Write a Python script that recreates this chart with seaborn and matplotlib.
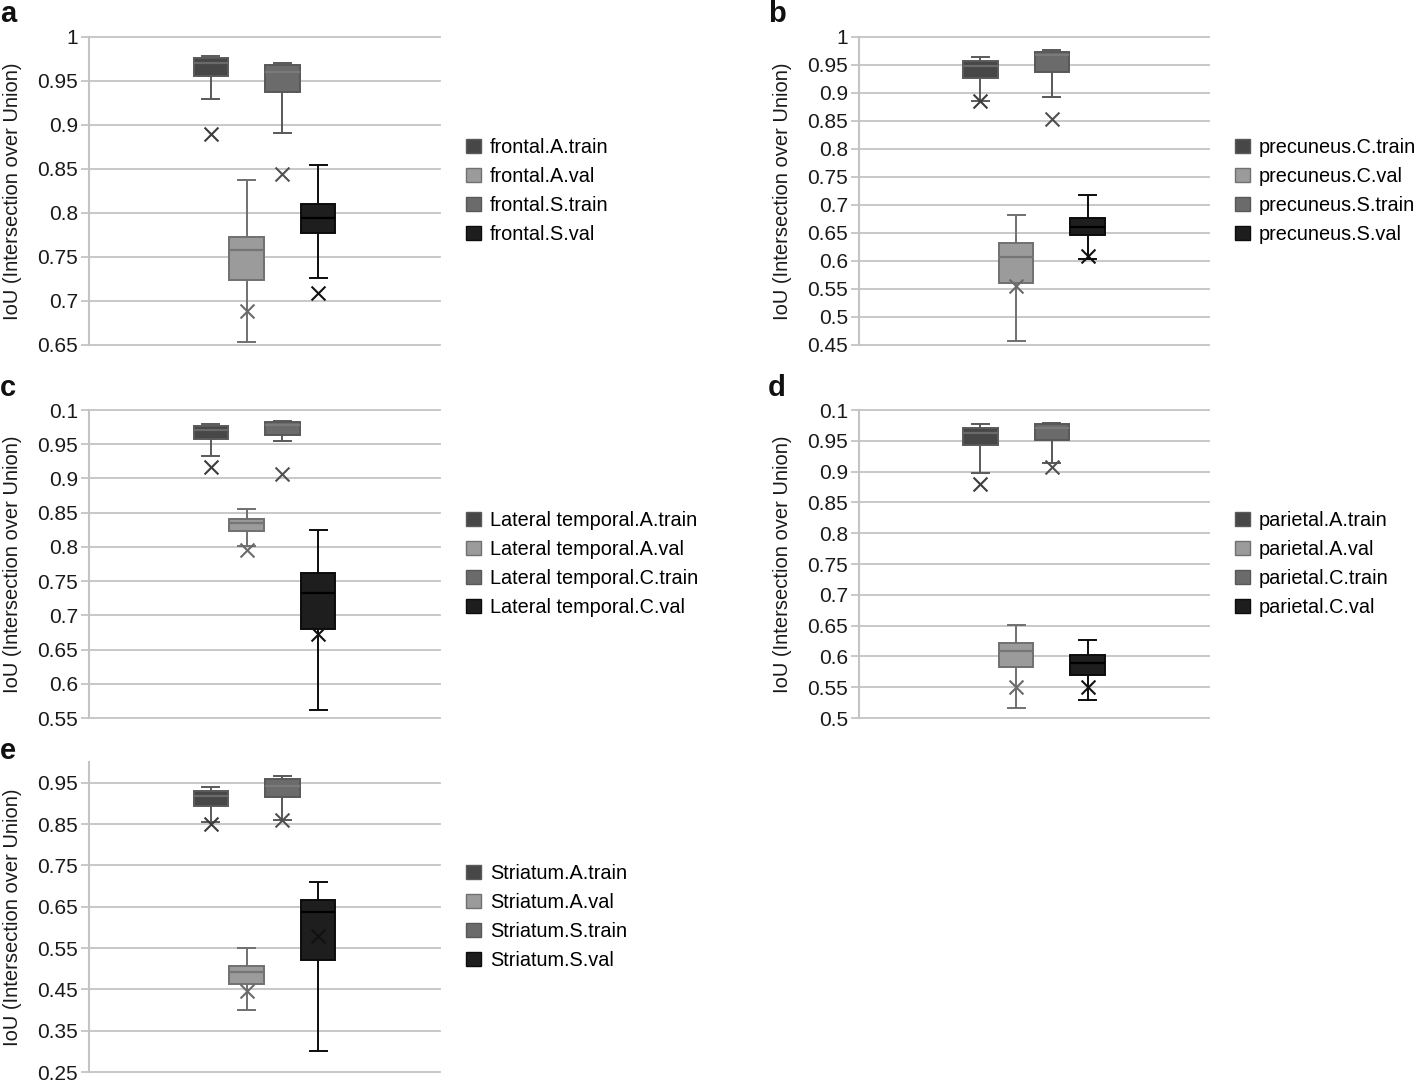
import numpy as np
import pandas as pd
import matplotlib
matplotlib.use("Agg")
import matplotlib.pyplot as plt
import seaborn as sns
from matplotlib.patches import Patch

# ---- data (box: min, q1, median, q3, max; x marker = mean) ----
frontal_labels = ["frontal.A.train", "frontal.A.val", "frontal.S.train", "frontal.S.val"]
frontal_min = [0.930, 0.653, 0.891, 0.726]
frontal_q1 = [0.956, 0.724, 0.937, 0.777]
frontal_med = [0.970, 0.758, 0.960, 0.794]
frontal_q3 = [0.976, 0.773, 0.968, 0.810]
frontal_max = [0.978, 0.837, 0.971, 0.854]
frontal_mean = [0.890, 0.689, 0.844, 0.709]

precuneus_labels = ["precuneus.C.train", "precuneus.C.val", "precuneus.S.train", "precuneus.S.val"]
precuneus_min = [0.886, 0.457, 0.893, 0.603]
precuneus_q1 = [0.927, 0.561, 0.938, 0.647]
precuneus_med = [0.949, 0.607, 0.967, 0.661]
precuneus_q3 = [0.957, 0.633, 0.973, 0.677]
precuneus_max = [0.965, 0.682, 0.976, 0.718]
precuneus_mean = [0.885, 0.555, 0.854, 0.609]

lateral_labels = ["Lateral temporal.A.train", "Lateral temporal.A.val",
                  "Lateral temporal.C.train", "Lateral temporal.C.val"]
lateral_min = [0.933, 0.801, 0.955, 0.561]
lateral_q1 = [0.958, 0.823, 0.964, 0.680]
lateral_med = [0.971, 0.835, 0.978, 0.733]
lateral_q3 = [0.977, 0.841, 0.982, 0.762]
lateral_max = [0.979, 0.856, 0.984, 0.824]
lateral_mean = [0.916, 0.795, 0.906, 0.672]

parietal_labels = ["parietal.A.train", "parietal.A.val", "parietal.C.train", "parietal.C.val"]
parietal_min = [0.898, 0.516, 0.914, 0.529]
parietal_q1 = [0.943, 0.582, 0.951, 0.570]
parietal_med = [0.963, 0.609, 0.970, 0.589]
parietal_q3 = [0.971, 0.621, 0.977, 0.603]
parietal_max = [0.978, 0.651, 0.979, 0.627]
parietal_mean = [0.880, 0.551, 0.908, 0.551]

striatum_labels = ["Striatum.A.train", "Striatum.A.val", "Striatum.S.train", "Striatum.S.val"]
striatum_min = [0.855, 0.401, 0.859, 0.302]
striatum_q1 = [0.894, 0.462, 0.915, 0.520]
striatum_med = [0.918, 0.491, 0.942, 0.636]
striatum_q3 = [0.930, 0.507, 0.959, 0.665]
striatum_max = [0.939, 0.550, 0.967, 0.710]
striatum_mean = [0.851, 0.445, 0.859, 0.580]

fills = ["#474747", "#9b9b9b", "#6b6b6b", "#1e1e1e"]
edges = ["#5a5a5a", "#707070", "#585858", "#0c0c0c"]
medians = ["#6a6a6a", "#757575", "#7a7a7a", "#000000"]
mean_cols = ["#3c3c3c", "#6a6a6a", "#505050", "#111111"]
grid_col = "#c4c4c4"

W, H = 1416, 1081
plt.rcParams["font.family"] = ["Liberation Sans", "DejaVu Sans"]
fig = plt.figure(figsize=(W / 100, H / 100), dpi=100)


def add_ax(x0, y0, x1, y1):
    return fig.add_axes([x0 / W, 1 - y1 / H, (x1 - x0) / W, (y1 - y0) / H])


def panel(ax, labels, mins, q1s, meds, q3s, maxs, means, ylim, ticks, ticklabels):
    rows = []
    for lab, a, b, c, d, e in zip(labels, mins, q1s, meds, q3s, maxs):
        for v in (a, b, c, d, e):
            rows.append({"grp": "all", "series": lab, "iou": v})
    df = pd.DataFrame(rows)
    mdf = pd.DataFrame({"grp": "all", "series": labels, "iou": means})

    # one call per series so every box can get its own outline colour
    for i, lab in enumerate(labels):
        sns.boxplot(data=df[df.series == lab], x="grp", y="iou", hue="series",
                    hue_order=labels, palette=fills, dodge=True, gap=0.04,
                    whis=(0, 100), showfliers=False, linecolor=edges[i],
                    linewidth=1.4, medianprops={"color": medians[i], "linewidth": 1.6},
                    legend=False, ax=ax)
    for i, lab in enumerate(labels):
        sns.stripplot(data=mdf[mdf.series == lab], x="grp", y="iou", hue="series",
                      hue_order=labels, palette=mean_cols, dodge=True, jitter=False,
                      marker="x", size=10, linewidth=1.5, legend=False, ax=ax, zorder=5)
        coll = ax.collections[-1]
        coll.set_edgecolor(mean_cols[i])
        coll.set_facecolor(mean_cols[i])

    ax.set_xlim(-0.98, 0.98)
    ax.set_ylim(*ylim)
    ax.set_yticks(ticks)
    ax.set_yticklabels(ticklabels)
    ax.set_xticks([])
    ax.set_xlabel("")
    ax.set_ylabel("IoU (Intersection over Union)", fontsize=14.5, color="#1a1a1a")
    ax.yaxis.set_label_coords(-0.192, 0.5)
    ax.tick_params(axis="y", length=6, width=1.3, color=grid_col, pad=2,
                   labelsize=15, labelcolor="#1a1a1a")
    ax.yaxis.grid(True, color=grid_col, linewidth=1.3)
    ax.set_axisbelow(True)
    for gl in ax.get_ygridlines():
        gl.set_clip_on(False)
    for s in ("top", "right", "bottom"):
        ax.spines[s].set_visible(False)
    ax.spines["left"].set_color(grid_col)
    ax.spines["left"].set_linewidth(1.5)

    handles = [Patch(facecolor=fills[i], edgecolor=edges[i], linewidth=1.0, label=labels[i])
               for i in range(4)]
    ax.legend(handles=handles, loc="center left", bbox_to_anchor=(1.075, 0.5),
              frameon=False, fontsize=14.3, handlelength=0.75, handleheight=0.75,
              handletextpad=0.45, labelspacing=0.5, borderpad=0, borderaxespad=0)


def fmt(vals):
    return [("%g" % v) for v in vals]


ax_a = add_ax(89, 37, 440, 345)
t = np.round(np.arange(0.65, 1.0001, 0.05), 2)
panel(ax_a, frontal_labels, frontal_min, frontal_q1, frontal_med, frontal_q3,
      frontal_max, frontal_mean, (0.65, 1.0), t, fmt(t))

ax_b = add_ax(859, 37, 1209, 345)
t = np.round(np.arange(0.45, 1.0001, 0.05), 2)
panel(ax_b, precuneus_labels, precuneus_min, precuneus_q1, precuneus_med, precuneus_q3,
      precuneus_max, precuneus_mean, (0.45, 1.0), t, fmt(t))

ax_c = add_ax(89, 410, 440, 718)
t = np.round(np.arange(0.55, 1.0001, 0.05), 2)
tl = fmt(t)
tl[-1] = "0.1"
panel(ax_c, lateral_labels, lateral_min, lateral_q1, lateral_med, lateral_q3,
      lateral_max, lateral_mean, (0.55, 1.0), t, tl)

ax_d = add_ax(859, 410, 1209, 718)
t = np.round(np.arange(0.5, 1.0001, 0.05), 2)
tl = fmt(t)
tl[-1] = "0.1"
panel(ax_d, parietal_labels, parietal_min, parietal_q1, parietal_med, parietal_q3,
      parietal_max, parietal_mean, (0.5, 1.0), t, tl)

ax_e = add_ax(89, 762, 440, 1072)
t = np.round(np.arange(0.25, 0.9501, 0.1), 2)
panel(ax_e, striatum_labels, striatum_min, striatum_q1, striatum_med, striatum_q3,
      striatum_max, striatum_mean, (0.25, 1.0), t, fmt(t))

for letter, px, py in [("a", 0, 22), ("b", 768, 22), ("c", 0, 396), ("d", 768, 396), ("e", 0, 759)]:
    fig.text(px / W, 1 - py / H, letter, fontsize=21, fontweight="bold",
             va="baseline", ha="left", color="#111111")

fig.savefig("out.png", dpi=100)
